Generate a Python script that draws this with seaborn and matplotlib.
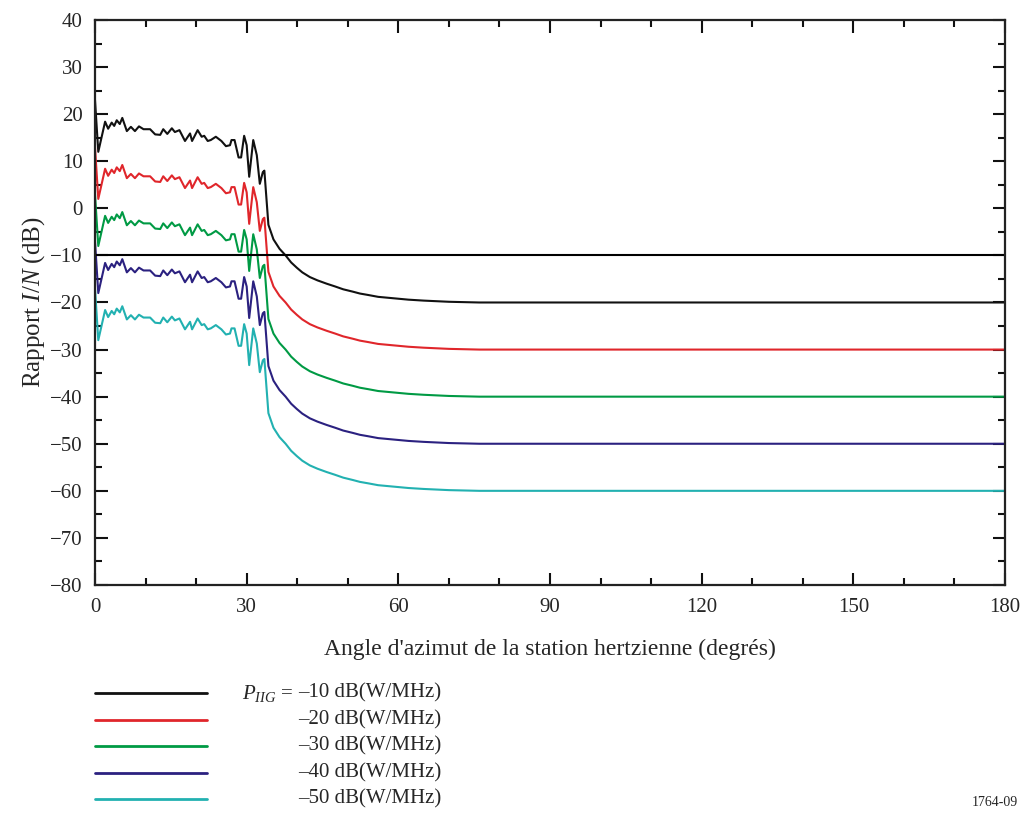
# I/N ratio vs azimuth angle of the terrestrial station

import pandas as pd
import seaborn as sns
import matplotlib.pyplot as plt
from matplotlib.ticker import MultipleLocator
from matplotlib.lines import Line2D

# azimuth angles (degrees)
angles = [0, 0.65, 2.0, 2.6, 3.3, 3.8, 4.3, 4.9, 5.4, 6.3, 7.1, 7.9, 8.7, 9.6,
          10.9, 11.9, 12.9, 13.5, 14.3, 15.2, 15.8, 16.7, 17.8, 18.8, 19.2,
          20.3, 21.1, 21.6, 22.3, 22.9, 23.9, 25.0, 25.9, 26.7, 27.0, 27.6,
          28.4, 28.9, 29.5, 30.0, 30.5, 31.3, 32.0, 32.6, 33.2, 33.5, 34.3,
          35.3, 36.5, 37.7, 38.8, 39.9, 41.0, 42.5, 44.0, 45.8, 47.5, 49.1,
          51.0, 52.4, 54.0, 56.0, 58.0, 60.0, 62.0, 65.0, 67.0, 70.0, 72.0,
          76.0, 180.0]

# I/N (dB) read for P_IIG = -10 dB(W/MHz)
ratio_ref = [23.0, 12.0, 18.4, 16.9, 18.2, 17.5, 18.7, 17.9, 19.2, 16.4, 17.3,
             16.4, 17.4, 16.8, 16.8, 15.7, 15.6, 16.8, 15.8, 17.0, 16.2, 16.6,
             14.3, 15.9, 14.3, 16.6, 15.2, 15.4, 14.3, 14.5, 15.2, 14.3, 13.2,
             13.4, 14.5, 14.5, 10.8, 10.8, 15.4, 13.4, 6.7, 14.5, 11.3, 5.2,
             7.7, 8.0, -3.5, -6.6, -8.6, -10.0, -11.5, -12.6, -13.6, -14.6,
             -15.3, -16.0, -16.6, -17.2, -17.7, -18.1, -18.4, -18.8, -19.0,
             -19.2, -19.4, -19.6, -19.7, -19.85, -19.9, -20.0, -20.0]

# interferer power levels, dB(W/MHz); I/N shifts one for one with P_IIG
powers = [-10, -20, -30, -40, -50]
colors = ["#111111", "#e0262b", "#009a44", "#2b2180", "#22b1b1"]
threshold = -10

rows = []
for p in powers:
    for a, r in zip(angles, ratio_ref):
        rows.append({"angle": a, "ratio": r + (p - powers[0]), "power": p})
data = pd.DataFrame(rows)

sns.set_style("ticks")
plt.rcParams["font.family"] = ["Liberation Serif", "DejaVu Serif"]
plt.rcParams["mathtext.fontset"] = "custom"
plt.rcParams["mathtext.rm"] = "Liberation Serif"
plt.rcParams["mathtext.it"] = "Liberation Serif:italic"

fig = plt.figure(figsize=(10.27, 8.15), dpi=100)
ax = fig.add_axes([0.0925, 0.2822, 0.8861, 0.6933])

sns.lineplot(data=data, x="angle", y="ratio", hue="power", hue_order=powers,
             palette=colors, estimator=None, sort=False, linewidth=1.5,
             legend=False, ax=ax)
ax.axhline(threshold, color="black", linewidth=1.5)

ax.set_xlim(0, 180)
ax.set_ylim(-80, 40)
ax.xaxis.set_major_locator(MultipleLocator(30))
ax.xaxis.set_minor_locator(MultipleLocator(10))
ax.yaxis.set_major_locator(MultipleLocator(10))
ax.yaxis.set_minor_locator(MultipleLocator(5))
ax.tick_params(which="both", direction="in", top=True, right=True,
               width=1.5, labelsize=15, color="#111111")
ax.tick_params(which="major", length=9, pad=9)
ax.tick_params(which="minor", length=5)
for s in ax.spines.values():
    s.set_linewidth(1.6)
    s.set_color("#222222")

ax.set_xlabel("Angle d'azimut de la station hertzienne (degrés)", fontsize=17, labelpad=16)
ax.set_ylabel("Rapport $I/N$ (dB)", fontsize=18, labelpad=2)

# legend drawn below the axes
y0 = 1 - 693 / 815
step = 26.5 / 815
for i, (p, c) in enumerate(zip(powers, colors)):
    y = y0 - i * step
    fig.add_artist(Line2D([95 / 1027, 207 / 1027], [y, y], color=c, linewidth=2))
    fig.text(298 / 1027, y, "\u2013%d dB(W/MHz)" % abs(p), fontsize=15,
             va="center", ha="left")
fig.text(294 / 1027, y0, "$P_{IIG}$ =", fontsize=15, va="center", ha="right")

fig.text(1018 / 1027, 1 - 802 / 815, "1764-09", fontsize=10, ha="right", va="center")

plt.savefig("out.png", dpi=100)
